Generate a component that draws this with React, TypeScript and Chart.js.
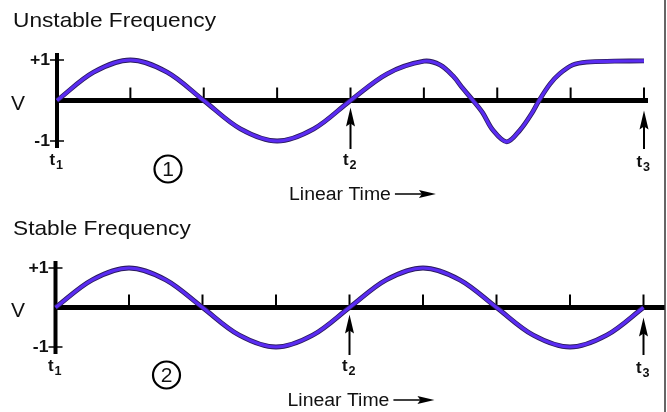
import React, { useEffect, useRef } from 'react';
import { Chart, registerables } from 'chart.js';

Chart.register(...registerables);

// ---- data ----
const panelTitles = ['Unstable Frequency', 'Stable Frequency'];
const panelNumbers = ['1', '2'];
const timeTicks = [1, 2, 3, 4, 5, 6, 7, 8];
const markerIndex = [0, 4, 8];
const markerSubs = ['1', '2', '3'];
const yTickValues = [1, -1];
const yTickLabels = ['+1', '-1'];
const axisLabel = 'V';
const timeLabel = 'Linear Time';

const unstableX = [0, 0.5, 1, 1.5, 2, 2.5, 3, 3.5, 4, 4.5, 5.0, 5.22, 5.4, 5.53, 5.67, 5.8, 5.94, 6.13, 6.31, 6.47, 6.57, 6.72, 6.85, 7.03, 7.22, 7.6, 8];
const unstableY = [0, 0.7, 1, 0.7, 0, -0.7, -1, -0.7, 0, 0.66, 0.97, 0.88, 0.6, 0.3, 0, -0.3, -0.73, -1.02, -0.73, -0.32, 0, 0.41, 0.66, 0.88, 0.95, 0.97, 0.98];

const stableX = [0, 0.5, 1, 1.5, 2, 2.5, 3, 3.5, 4, 4.5, 5, 5.5, 6, 6.5, 7, 7.5, 8];
const stableY = [0, 0.7, 1, 0.7, 0, -0.7, -1, -0.7, 0, 0.7, 1, 0.7, 0, -0.7, -1, -0.7, 0];

const FONT = "'Liberation Sans', Arial, Helvetica, sans-serif";
const CURVE = '#5a2cf2';
const OUTLINE = '#2a1a5e';
const INK = '#111';

function stretchText(ctx: CanvasRenderingContext2D, text: string, x: number, y: number, font: string, align: CanvasTextAlign, baseline: CanvasTextBaseline, sx = 1.08) {
  ctx.save();
  ctx.font = font;
  ctx.textAlign = align;
  ctx.textBaseline = baseline;
  ctx.fillStyle = INK;
  ctx.translate(x, y);
  ctx.scale(sx, 1);
  ctx.fillText(text, 0, 0);
  ctx.restore();
}

function makeDecor(title: string, num: string, zeroEnd: number) {
  return {
    id: 'decor-' + num,
    beforeDatasetsDraw(chart: any) {
      const ctx: CanvasRenderingContext2D = chart.ctx;
      const xs = chart.scales.x;
      const ys = chart.scales.y;
      const ax = xs.getPixelForValue(0);
      const y0 = ys.getPixelForValue(0);
      const yP = ys.getPixelForValue(1);
      const yM = ys.getPixelForValue(-1);
      ctx.save();
      ctx.strokeStyle = '#000';
      ctx.lineWidth = 5;
      ctx.beginPath();
      ctx.moveTo(ax, y0);
      ctx.lineTo(zeroEnd, y0);
      ctx.stroke();
      ctx.lineWidth = 4;
      ctx.beginPath();
      ctx.moveTo(ax, yP - 7);
      ctx.lineTo(ax, yM + 7);
      ctx.stroke();
      ctx.lineWidth = 1.5;
      yTickValues.forEach((v) => {
        const py = ys.getPixelForValue(v);
        ctx.beginPath();
        ctx.moveTo(ax - 7, py);
        ctx.lineTo(ax + 7, py);
        ctx.stroke();
      });
      ctx.lineWidth = 2;
      timeTicks.forEach((t) => {
        const px = xs.getPixelForValue(t);
        ctx.beginPath();
        ctx.moveTo(px, y0 - 13);
        ctx.lineTo(px, y0 - 2);
        ctx.stroke();
      });
      ctx.strokeStyle = '#333';
      ctx.lineWidth = 1.5;
      ctx.beginPath();
      ctx.moveTo(665, 0);
      ctx.lineTo(665, chart.height);
      ctx.stroke();
      ctx.restore();

      stretchText(ctx, title, 13, yP - 33, `21px ${FONT}`, 'left', 'alphabetic');
      yTickValues.forEach((v, i) => {
        const py = ys.getPixelForValue(v);
        stretchText(ctx, yTickLabels[i], ax - 7, py + 1, `bold 16px ${FONT}`, 'right', 'middle', 1.1);
      });
      stretchText(ctx, axisLabel, 11, y0 + 9, `20px ${FONT}`, 'left', 'alphabetic', 1.05);
    },
    afterDatasetsDraw(chart: any) {
      const ctx: CanvasRenderingContext2D = chart.ctx;
      const xs = chart.scales.x;
      const ys = chart.scales.y;
      const ax = xs.getPixelForValue(0);
      const y0 = ys.getPixelForValue(0);
      const yM = ys.getPixelForValue(-1);
      markerIndex.forEach((m, i) => {
        const px = xs.getPixelForValue(m);
        if (m > 0) {
          const tip = y0 + (m === 8 ? 10 : 7);
          ctx.save();
          ctx.strokeStyle = '#000';
          ctx.fillStyle = '#000';
          ctx.lineWidth = 2;
          ctx.beginPath();
          ctx.moveTo(px, yM + 8);
          ctx.lineTo(px, tip + 10);
          ctx.stroke();
          ctx.beginPath();
          ctx.moveTo(px, tip);
          ctx.lineTo(px + 4.5, tip + 19);
          ctx.lineTo(px, tip + 16);
          ctx.lineTo(px - 4.5, tip + 19);
          ctx.closePath();
          ctx.fill();
          ctx.restore();
        }
        const base = yM + 24 + (m === 8 ? 2 : 0);
        stretchText(ctx, 't', px - 2, base, `bold 16px ${FONT}`, 'right', 'alphabetic', 1.05);
        stretchText(ctx, markerSubs[i], px - 1, base + 4, `bold 12px ${FONT}`, 'left', 'alphabetic', 1.05);
      });
      const cx = ax + 111;
      const cy = yM + 28;
      ctx.save();
      ctx.strokeStyle = '#000';
      ctx.lineWidth = 2.2;
      ctx.beginPath();
      ctx.arc(cx, cy, 13.5, 0, Math.PI * 2);
      ctx.stroke();
      ctx.restore();
      stretchText(ctx, num, cx, cy + 1, `21px ${FONT}`, 'center', 'middle', 1.0);
      const lx = ax + 232;
      const lb = yM + 59;
      stretchText(ctx, timeLabel, lx, lb, `18px ${FONT}`, 'left', 'alphabetic', 1.08);
      ctx.save();
      ctx.font = `18px ${FONT}`;
      const w = ctx.measureText(timeLabel).width * 1.08;
      const sx = lx + w + 4;
      const ay = lb - 6;
      ctx.strokeStyle = '#000';
      ctx.fillStyle = '#000';
      ctx.lineWidth = 1.5;
      ctx.beginPath();
      ctx.moveTo(sx, ay);
      ctx.lineTo(sx + 28, ay);
      ctx.stroke();
      ctx.beginPath();
      ctx.moveTo(sx + 41, ay);
      ctx.lineTo(sx + 24, ay - 4);
      ctx.lineTo(sx + 27, ay);
      ctx.lineTo(sx + 24, ay + 4);
      ctx.closePath();
      ctx.fill();
      ctx.restore();
    },
  };
}

type PanelProps = {
  title: string;
  num: string;
  xs: number[];
  ys: number[];
  top: number;
  padding: { left: number; right: number; top: number; bottom: number };
  zeroEnd: number;
};

function Panel({ title, num, xs, ys, top, padding, zeroEnd }: PanelProps) {
  const ref = useRef<HTMLCanvasElement | null>(null);
  useEffect(() => {
    if (!ref.current) return;
    const pts = xs.map((x, i) => ({ x, y: ys[i] }));
    const common = { pointRadius: 0, tension: 0.34, clip: false, fill: false, capBezierPoints: false };
    const chart = new Chart(ref.current, {
      type: 'line',
      data: {
        datasets: [
          { data: pts, borderColor: CURVE, borderWidth: 3.2, ...common } as any,
          { data: pts, borderColor: OUTLINE, borderWidth: 4.8, ...common } as any,
        ],
      },
      options: {
        animation: false,
        responsive: false,
        events: [],
        layout: { padding },
        elements: { line: { capBezierPoints: false } },
        scales: {
          x: { type: 'linear', min: 0, max: 8, display: false },
          y: { type: 'linear', min: -1, max: 1, display: false },
        },
        plugins: { legend: { display: false }, tooltip: { enabled: false } },
      },
      plugins: [makeDecor(title, num, zeroEnd)],
    });
    return () => chart.destroy();
  }, []);
  return (
    <canvas
      ref={ref}
      width={667}
      height={206}
      style={{ position: 'absolute', left: 0, top, width: 667, height: 206 }}
    />
  );
}

export default function App() {
  return (
    <div style={{ position: 'absolute', left: 0, top: 0, width: 667, height: 412, background: '#fff', overflow: 'hidden' }}>
      <Panel
        title={panelTitles[0]}
        num={panelNumbers[0]}
        xs={unstableX}
        ys={unstableY}
        top={0}
        padding={{ left: 57, right: 23, top: 60, bottom: 65 }}
        zeroEnd={648}
      />
      <Panel
        title={panelTitles[1]}
        num={panelNumbers[1]}
        xs={stableX}
        ys={stableY}
        top={206}
        padding={{ left: 55.5, right: 23.5, top: 62, bottom: 65 }}
        zeroEnd={665}
      />
    </div>
  );
}
